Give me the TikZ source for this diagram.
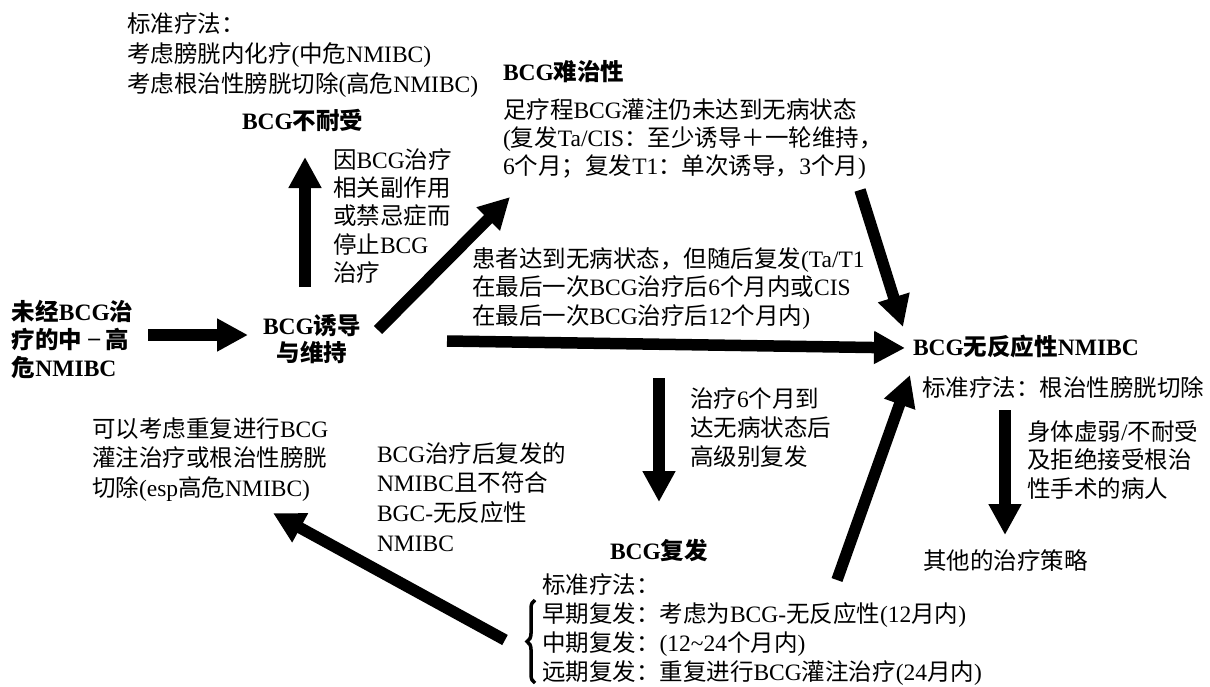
\documentclass[tikz,border=0pt]{standalone}
\usepackage{fontspec}
\setmainfont{Liberation Serif}
\newfontfamily\cjk{Noto Sans CJK SC}
\usetikzlibrary{arrows.meta,decorations.pathreplacing}
\XeTeXinterchartokenstate=1
\newXeTeXintercharclass\cjkcls
\makeatletter
\def\setcjkrange#1#2{\count@=#1\relax\loop\XeTeXcharclass\count@=\cjkcls\relax\ifnum\count@<#2\relax\advance\count@\@ne\repeat}
\setcjkrange{"3000}{"303F}
\setcjkrange{"4E00}{"9FFF}
\setcjkrange{"FF00}{"FFEF}
\makeatother
\XeTeXinterchartoks 0 \cjkcls = {\cjk}
\XeTeXinterchartoks 4095 \cjkcls = {\cjk}
\XeTeXinterchartoks \cjkcls 0 = {\rmfamily}
\XeTeXinterchartoks 4095 0 = {\rmfamily}
\begin{document}
\begin{tikzpicture}[x=1pt,y=-1pt,
  txt/.style={inner sep=0pt,outer sep=0pt,align=left,anchor=north west,font=\fontsize{23.5}{28.5}\selectfont},
  btxt/.style={inner sep=0pt,outer sep=0pt,anchor=west,font=\fontsize{23.5}{28}\selectfont\bfseries},
  fat/.style={line width=11.5pt,-{Triangle[length=31pt,width=31pt]}},
  bracestyle/.style={line width=3.5pt,decorate,decoration={brace,amplitude=8pt,aspect=0.5}}
]
\fill[white] (0,0) rectangle (1210,686);
\useasboundingbox (0,0) rectangle (1210,686);

% text nodes
\node[txt,font=\fontsize{23.5}{30}\selectfont] (std1) at (127,12.5) {标准疗法：\\考虑膀胱内化疗(中危NMIBC)\\考虑根治性膀胱切除(高危NMIBC)};
\node[btxt] (intol) at (242,120) {BCG不耐受};
\node[btxt] (refr) at (503,72) {BCG难治性};
\node[txt,font=\fontsize{23.5}{28}\selectfont] (refrd) at (503,98.5) {足疗程BCG灌注仍未达到无病状态\\(复发Ta/CIS：至少诱导＋一轮维持，\\6个月；复发T1：单次诱导，3个月)};
\node[txt,font=\fontsize{23.5}{28.3}\selectfont] (intold) at (333,148.5) {因BCG治疗\\相关副作用\\或禁忌症而\\停止BCG\\治疗};
\node[txt,font=\fontsize{23.5}{28}\selectfont\bfseries] (naive) at (12,300.5) {未经BCG治\\疗的中\hspace{0.25em}\raisebox{0.16em}{–}\hspace{0.25em}高\\危NMIBC};
\node[txt,anchor=north,align=center,font=\fontsize{23.5}{27}\selectfont\bfseries] (induct) at (312,314.5) {BCG诱导\\与维持};
\node[txt,font=\fontsize{23.5}{28.5}\selectfont] (relapse) at (472,247.5) {患者达到无病状态，但随后复发(Ta/T1\\在最后一次BCG治疗后6个月内或CIS\\在最后一次BCG治疗后12个月内)};
\node[btxt] (unresp) at (913,347) {BCG无反应性NMIBC};
\node[txt,anchor=west] (unstd) at (922,388) {标准疗法：根治性膀胱切除};
\node[txt,font=\fontsize{23.5}{28.5}\selectfont] (frail) at (1027,420.5) {身体虚弱/不耐受\\及拒绝接受根治\\性手术的病人};
\node[txt,anchor=west] (other) at (923,561) {其他的治疗策略};
\node[txt,font=\fontsize{23.5}{29}\selectfont] (sixm) at (690,387.5) {治疗6个月到\\达无病状态后\\高级别复发};
\node[btxt] (recur) at (610,550) {BCG复发};
\node[txt,font=\fontsize{23.5}{29}\selectfont] (recstd) at (542,573.5) {标准疗法：\\早期复发：考虑为BCG-无反应性(12月内)\\中期复发：(12{\textasciitilde}24个月内)\\远期复发：重复进行BCG灌注治疗(24月内)};
\node[txt,font=\fontsize{23.5}{29.6}\selectfont] (notmeet) at (377,442.5) {BCG治疗后复发的\\NMIBC且不符合\\BGC-无反应性\\NMIBC};
\node[txt,font=\fontsize{23.5}{29.5}\selectfont] (rep) at (92,417.5) {可以考虑重复进行BCG\\灌注治疗或根治性膀胱\\切除(esp高危NMIBC)};

% connector end points
\coordinate (naiveE) at (148,335);
\coordinate (inductW) at (248,335);
\coordinate (inductN) at (305,287);
\coordinate (intolS) at (305,157);
\coordinate (inductNE) at (378,330);
\coordinate (refrSW) at (510,197);
\coordinate (inductE) at (447,341);
\coordinate (unrespW) at (905,348);
\coordinate (refrdSE) at (860,190);
\coordinate (unrespNW) at (903,327);
\coordinate (relapseS) at (659,378);
\coordinate (recurN) at (659,502);
\coordinate (recstdNE) at (837,580);
\coordinate (unrespSW) at (910,375);
\coordinate (unstdS) at (1005,410);
\coordinate (otherN) at (1005,535);
\coordinate (braceW) at (505,640);
\coordinate (repS) at (273,513);
\coordinate (braceTop) at (535,600);
\coordinate (braceBot) at (535,683);

% connectors
\draw[fat] (naiveE) -- (inductW);
\draw[fat] (inductN) -- (intolS);
\draw[fat] (inductNE) -- (refrSW);
\draw[fat] (inductE) -- (unrespW);
\draw[fat] (refrdSE) -- (unrespNW);
\draw[fat] (relapseS) -- (recurN);
\draw[fat] (recstdNE) -- (unrespSW);
\draw[fat] (unstdS) -- (otherN);
\draw[fat] (braceW) -- (repS);
\draw[bracestyle] (braceBot) -- (braceTop);
\end{tikzpicture}
\end{document}
